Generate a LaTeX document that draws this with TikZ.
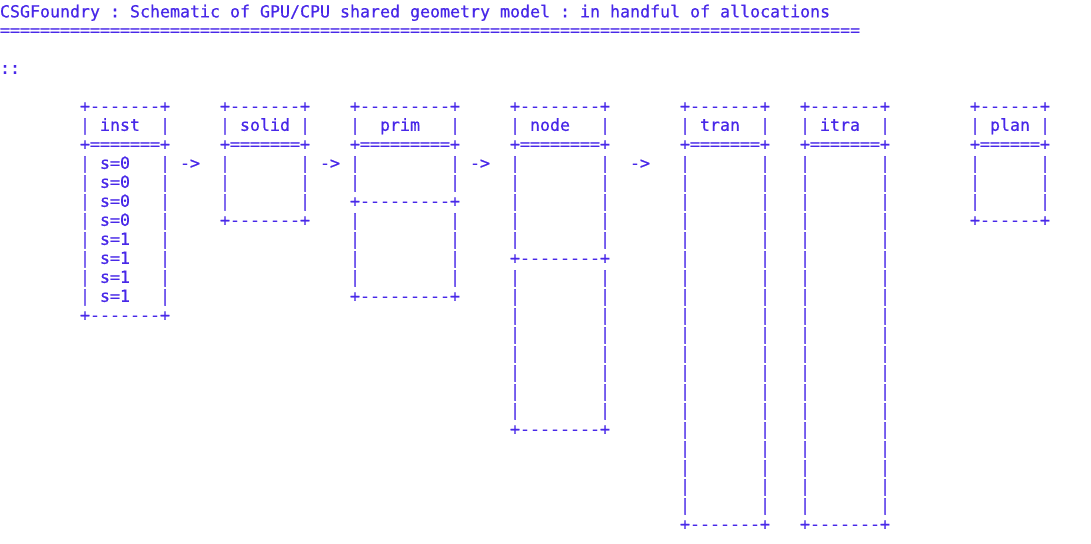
\documentclass[tikz,border=0pt]{standalone}
\usepackage{fontspec}
\newfontfamily\asciifont{DejaVu Sans Mono}[FakeBold=0.6]
\definecolor{termblue}{RGB}{72,40,232}

\begin{document}
\begin{tikzpicture}[x=7.5pt, y=-14.25pt,
  every node/.style={anchor=base west, inner sep=0pt, outer sep=0pt, text=termblue,
    font={\asciifont\fontsize{12.46pt}{14.25pt}\selectfont\frenchspacing}}]
\useasboundingbox (0,-0.884) rectangle (109.1,27.747);

\node (title) at (0,0.03) {CSGFoundry : Schematic of GPU/CPU shared geometry model : in handful of allocations};
\node (rule) at (0,1) {======================================================================================};
\node (colons) at (0,3) {::};

% inst
\node (inst top) at (8,5) {+-------+};
\node (inst head) at (8,6) {|~inst~~|};
\node (inst sep) at (8,7) {+=======+};
\foreach \r in {8,...,11} \node (inst s\r) at (8,\r) {|~s=0~~~|};
\foreach \r in {12,...,15} \node (inst s\r) at (8,\r) {|~s=1~~~|};
\node (inst bot) at (8,16) {+-------+};

% arrows
\node (arr1) at (18,8) {->};
\node (arr2) at (32,8) {->};
\node (arr3) at (47,8) {->};
\node (arr4) at (63,8) {->};

% solid
\node (solid top) at (22,5) {+-------+};
\node (solid head) at (22,6) {|~solid~|};
\node (solid sep) at (22,7) {+=======+};
\foreach \r in {8,...,10} \node (solid b\r) at (22,\r) {|~~~~~~~|};
\node (solid bot) at (22,11) {+-------+};

% prim
\node (prim top) at (35,5) {+---------+};
\node (prim head) at (35,6) {|~~prim~~~|};
\node (prim sep) at (35,7) {+=========+};
\foreach \r in {8,9,11,12,13,14} \node (prim b\r) at (35,\r) {|~~~~~~~~~|};
\node (prim mid) at (35,10) {+---------+};
\node (prim bot) at (35,15) {+---------+};

% node
\node (node top) at (51,5) {+--------+};
\node (node head) at (51,6) {|~node~~~|};
\node (node sep) at (51,7) {+========+};
\foreach \r in {8,...,12,14,15,...,21} \node (node b\r) at (51,\r) {|~~~~~~~~|};
\node (node mid) at (51,13) {+--------+};
\node (node bot) at (51,22) {+--------+};

% tran
\node (tran top) at (68,5) {+-------+};
\node (tran head) at (68,6) {|~tran~~|};
\node (tran sep) at (68,7) {+=======+};
\foreach \r in {8,...,26} \node (tran b\r) at (68,\r) {|~~~~~~~|};
\node (tran bot) at (68,27) {+-------+};

% itra
\node (itra top) at (80,5) {+-------+};
\node (itra head) at (80,6) {|~itra~~|};
\node (itra sep) at (80,7) {+=======+};
\foreach \r in {8,...,26} \node (itra b\r) at (80,\r) {|~~~~~~~|};
\node (itra bot) at (80,27) {+-------+};

% plan
\node (plan top) at (97,5) {+------+};
\node (plan head) at (97,6) {|~plan~|};
\node (plan sep) at (97,7) {+======+};
\foreach \r in {8,...,10} \node (plan b\r) at (97,\r) {|~~~~~~|};
\node (plan bot) at (97,11) {+------+};
\end{tikzpicture}
\end{document}
